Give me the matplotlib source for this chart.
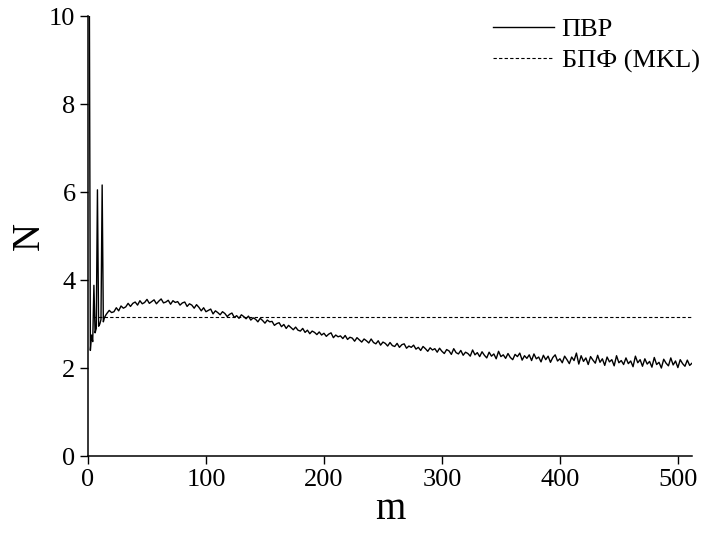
import numpy as np
import matplotlib
matplotlib.use('Agg')
import matplotlib.pyplot as plt

plt.rcParams['font.family'] = ['Liberation Serif', 'DejaVu Serif']

# N for the first block sizes m = 1..15 (m=1 goes off the top of the axes)
n_head = [12.0, 2.40, 2.75, 2.60, 3.88, 2.80, 2.90, 6.05, 2.95, 3.00,
          3.10, 6.16, 3.05, 3.15, 3.20]
# N for m = 16, 18, ..., 512
n_tail = [
    3.24, 3.31, 3.26, 3.28, 3.37, 3.30, 3.41, 3.36, 3.39, 3.47,
    3.40, 3.47, 3.50, 3.43, 3.53, 3.46, 3.49, 3.56, 3.47, 3.51,
    3.55, 3.46, 3.52, 3.57, 3.48, 3.50, 3.54, 3.45, 3.53, 3.49,
    3.51, 3.43, 3.48, 3.50, 3.40, 3.46, 3.43, 3.36, 3.44, 3.38,
    3.30, 3.37, 3.28, 3.31, 3.34, 3.23, 3.30, 3.26, 3.21, 3.28,
    3.24, 3.17, 3.22, 3.25, 3.15, 3.19, 3.13, 3.21, 3.17, 3.12,
    3.18, 3.09, 3.14, 3.11, 3.05, 3.13, 3.08, 3.02, 3.09, 3.05,
    3.06, 2.97, 3.01, 3.03, 2.94, 2.99, 2.90, 2.97, 2.92, 2.87,
    2.93, 2.86, 2.84, 2.90, 2.81, 2.86, 2.78, 2.84, 2.81, 2.76,
    2.82, 2.75, 2.79, 2.72, 2.77, 2.80, 2.69, 2.75, 2.71, 2.73,
    2.67, 2.74, 2.65, 2.70, 2.68, 2.61, 2.69, 2.64, 2.59, 2.66,
    2.62, 2.57, 2.66, 2.58, 2.55, 2.62, 2.52, 2.59, 2.56, 2.50,
    2.58, 2.51, 2.49, 2.56, 2.47, 2.53, 2.55, 2.45, 2.50, 2.47,
    2.52, 2.43, 2.47, 2.40, 2.49, 2.44, 2.38, 2.46, 2.41, 2.44,
    2.36, 2.45, 2.38, 2.33, 2.42, 2.39, 2.31, 2.44, 2.35, 2.32,
    2.40, 2.29, 2.36, 2.33, 2.27, 2.41, 2.30, 2.35, 2.26, 2.37,
    2.29, 2.23, 2.36, 2.27, 2.32, 2.21, 2.38, 2.26, 2.30, 2.22,
    2.33, 2.24, 2.19, 2.31, 2.26, 2.34, 2.18, 2.28, 2.22, 2.30,
    2.17, 2.32, 2.21, 2.25, 2.14, 2.29, 2.19, 2.27, 2.13, 2.24,
    2.30, 2.16, 2.21, 2.12, 2.27, 2.19, 2.10, 2.25, 2.17, 2.34,
    2.09, 2.28, 2.15, 2.23, 2.08, 2.26, 2.18, 2.11, 2.29, 2.13,
    2.21, 2.06, 2.25, 2.14, 2.19, 2.05, 2.28, 2.12, 2.17, 2.08,
    2.23, 2.10, 2.16, 2.03, 2.27, 2.12, 2.19, 2.04, 2.21, 2.09,
    2.15, 2.02, 2.24, 2.08, 2.13, 2.00, 2.20, 2.11, 2.05, 2.23,
    2.07, 2.16, 2.01, 2.19, 2.10, 2.04, 2.18, 2.06, 2.11,
]
m_head = list(range(1, 16))
m_tail = list(range(16, 513, 2))

fft_level = 3.15  # БПФ (MKL)

m = m_head + m_tail
n_pvr = n_head + n_tail

fig = plt.figure(figsize=(7.04, 5.34), dpi=100)
ax = fig.add_axes([0.125, 0.146, 0.858, 0.824])

ax.plot(m, n_pvr, color='black', lw=1.0, label='ПВР')
ax.plot([m[3], m[-1]], [fft_level, fft_level], color='black', lw=0.8,
        dashes=(3, 2), label='БПФ (MKL)')

ax.set_xlim(0, 512)
ax.set_ylim(0, 10)
ax.set_xticks([0, 100, 200, 300, 400, 500])
ax.set_yticks([0, 2, 4, 6, 8, 10])

for s in ['top', 'right']:
    ax.spines[s].set_visible(False)
for s in ['left', 'bottom']:
    ax.spines[s].set_linewidth(1.1)
ax.tick_params(direction='out', length=6, width=1.0, labelsize=19, pad=3)

ax.set_xlabel('m', fontsize=28, labelpad=0)
ax.set_ylabel('N', fontsize=28, labelpad=1)

ax.legend(loc='upper right', frameon=False, fontsize=19, handlelength=2.3,
          handletextpad=0.3, borderaxespad=0.0, labelspacing=0.3,
          bbox_to_anchor=(1.03, 1.02))

fig.savefig('out.png', dpi=100)
